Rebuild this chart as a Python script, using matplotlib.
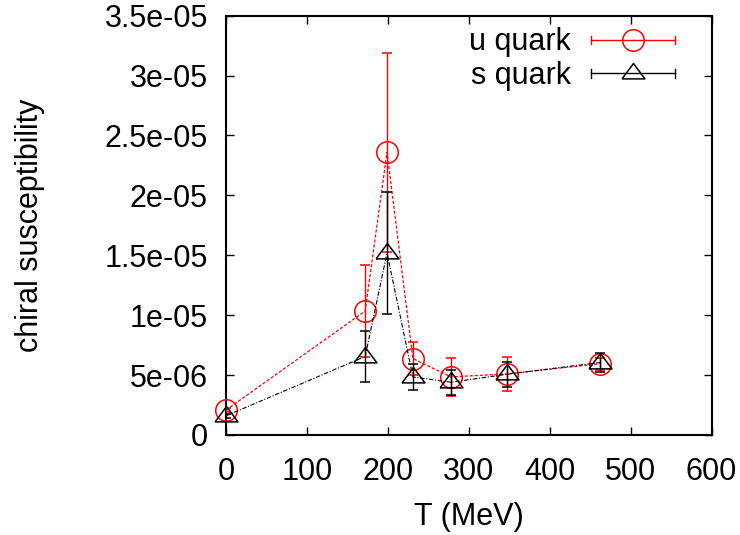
import numpy as np
import matplotlib
matplotlib.use("Agg")
import matplotlib.pyplot as plt
from matplotlib.lines import Line2D
from matplotlib.legend_handler import HandlerBase
from matplotlib.container import ErrorbarContainer

plt.rcParams["font.family"] = ["Liberation Sans", "DejaVu Sans"]

# Temperatures (MeV)
temperature = [0, 172, 199, 231, 278, 347, 462]

# u quark chiral susceptibility and its errors
u_chi = [2.08e-6, 10.35e-6, 23.6e-6, 6.38e-6, 4.85e-6, 5.10e-6, 5.95e-6]
u_err = [0.15e-6, 3.8e-6, 8.3e-6, 1.4e-6, 1.6e-6, 1.4e-6, 0.5e-6]

# s quark chiral susceptibility and its errors
s_chi = [1.6e-6, 6.55e-6, 15.2e-6, 4.85e-6, 4.4e-6, 5.07e-6, 6.05e-6]
s_err = [0.15e-6, 2.1e-6, 5.1e-6, 1.07e-6, 1.05e-6, 1.05e-6, 0.8e-6]

series_labels = ["u quark", "s quark"]

x_ticks = [0, 100, 200, 300, 400, 500, 600]
x_tick_labels = ["0", "100", "200", "300", "400", "500", "600"]
y_ticks = [0, 5e-6, 1e-5, 1.5e-5, 2e-5, 2.5e-5, 3e-5, 3.5e-5]
y_tick_labels = ["0", "5e-06", "1e-05", "1.5e-05", "2e-05", "2.5e-05", "3e-05", "3.5e-05"]

FS = 22
ERR_LW = 1.0

# gnuplot-like open triangle: wider than tall, point sits below the centroid of the box
TRIANGLE = [(-1.0, -0.47), (1.0, -0.47), (0.0, 0.87), (-1.0, -0.47)]


class CappedBarHandler(HandlerBase):
    """Legend key: horizontal bar with end caps and the series marker in the middle."""

    def create_artists(self, legend, orig_handle, xdescent, ydescent,
                       width, height, fontsize, trans):
        line = orig_handle[0]
        color = line.get_color()
        y = height / 2 - ydescent
        x0, x1 = -xdescent, width - xdescent
        cap = 3.0
        bar = Line2D([x0, x1], [y, y], color=color, lw=ERR_LW)
        caps = Line2D([x0, x0, np.nan, x1, x1],
                      [y - cap, y + cap, np.nan, y - cap, y + cap],
                      color=color, lw=ERR_LW)
        mark = Line2D([(x0 + x1) / 2], [y], ls="none",
                      marker=line.get_marker(), ms=line.get_markersize(),
                      mfc="none", mec=color, mew=line.get_markeredgewidth())
        for a in (bar, caps, mark):
            a.set_transform(trans)
        return [bar, caps, mark]


fig = plt.figure(figsize=(7.4, 5.35), dpi=100)
ax = fig.add_axes([226 / 740, 1 - 435 / 535, 485.5 / 740, 419.3 / 535])

u_cont = ax.errorbar(temperature, u_chi, yerr=u_err, color="#ff0000",
                     ls=(0, (2.5, 1.5)), lw=0.9, marker="o", ms=15.5,
                     mfc="none", mec="#ff0000", mew=1.1,
                     elinewidth=ERR_LW, capsize=3.3, capthick=ERR_LW,
                     label=series_labels[0], zorder=3)
s_cont = ax.errorbar(temperature, s_chi, yerr=s_err, color="black",
                     ls=(0, (4, 1.5, 1, 1.5)), lw=0.8, marker=TRIANGLE, ms=16.5,
                     mfc="none", mec="black", mew=1.1,
                     elinewidth=ERR_LW, capsize=3.3, capthick=ERR_LW,
                     label=series_labels[1], zorder=4)
for cont in (u_cont, s_cont):
    cont[0].set_clip_on(False)

ax.set_xlim(0, 600)
ax.set_ylim(0, 3.5e-5)
ax.set_xticks(x_ticks)
ax.set_xticklabels(x_tick_labels)
ax.set_yticks(y_ticks)
ax.set_yticklabels(y_tick_labels)

ax.tick_params(direction="in", length=5.5, width=1.0, top=True, right=True,
               labelsize=FS, colors="black")
ax.tick_params(axis="x", pad=16)
ax.tick_params(axis="y", pad=13)
for sp in ax.spines.values():
    sp.set_linewidth(1.5)

ax.set_xlabel("T (MeV)", fontsize=FS, labelpad=10.5)
ax.set_ylabel("chiral susceptibility", fontsize=FS)
ax.yaxis.set_label_coords(-0.372, 0.5)

ax.legend(handles=[u_cont, s_cont], labels=series_labels,
          handler_map={ErrorbarContainer: CappedBarHandler()},
          loc="upper right", bbox_to_anchor=(0.925, 0.972),
          frameon=False, markerfirst=False, fontsize=FS,
          handlelength=2.75, handletextpad=0.65, labelspacing=0.12,
          borderpad=0, borderaxespad=0)

fig.savefig("out.png", dpi=100)
